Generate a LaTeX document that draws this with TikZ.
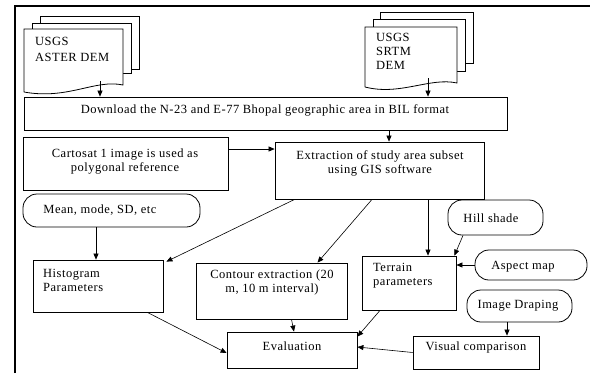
\documentclass[tikz,border=0pt]{standalone}
\usepackage{fontspec}
\setmainfont[LetterSpace=4]{Liberation Serif}
\usetikzlibrary{arrows.meta}

\begin{document}
\begin{tikzpicture}[x=1pt,y=-1pt,
  every node/.style={inner sep=0pt,font=\fontsize{12.5}{14}\selectfont},
  box/.style={draw,line width=0.8pt,rectangle},
  roundbox/.style={draw,line width=0.8pt,rectangle,rounded corners=14pt},
  page/.style={draw,line width=0.8pt,fill=white},
  link/.style={line width=0.6pt,-{Triangle[length=6pt,width=5pt]}}]
\useasboundingbox (0,0) rectangle (590,373);
% frame
\draw [line width=2.2pt] (15,373) -- (15,6) -- (590,6);
% USGS ASTER DEM pages
\draw [page] (40,23) -- (40,16) -- (139,16) -- (139,69) -- (131,69);
\draw [page] (32,29) -- (32,23) -- (131,23) -- (131,73) -- (123,73);
\draw [page] (24,92) -- (24,29) -- (123,29) -- (123,85)
  .. controls (95,79) and (68,100) .. (24,92);
\node [align=left,anchor=north west] (aster) at (35,37) {USGS\\[2pt]ASTER DEM};
\coordinate (asterout) at (100,81);
% USGS SRTM DEM pages
\draw [page] (380,19) -- (380,12) -- (473,12) -- (473,63) -- (465,63);
\draw [page] (373,27) -- (373,19) -- (465,19) -- (465,71) -- (457,71);
\draw [page] (365,87) -- (365,27) -- (457,27) -- (457,83)
  .. controls (430,77) and (400,96) .. (365,87);
\node [align=left,anchor=north west] (srtm) at (376,33) {USGS\\SRTM\\DEM};
\coordinate (srtmout) at (428,78);
% boxes
\node [box,minimum width=483,minimum height=33] (dl) at (265.5,113.5) {};
\node (dltext) at (265,110) {Download the N-23 and E-77 Bhopal geographic area in BIL format};
\node [box,minimum width=205,minimum height=53] (carto) at (125.5,163.5) {};
\node [align=center] (cartotext) at (125,162) {Cartosat 1 image is used as\\polygonal reference};
\node [box,minimum width=209,minimum height=57] (extr) at (379.5,170.5) {};
\node [align=center] (extrtext) at (380,163) {Extraction of study area subset\\using GIS software};
\node [roundbox,minimum width=177,minimum height=33] (mean) at (111.5,210.5) {};
\node (meantext) at (100,210) {Mean, mode, SD, etc};
\node [box,minimum width=130,minimum height=52] (hist) at (98,286) {};
\node [align=left,anchor=west] (histtext) at (43,280) {Histogram\\Parameters};
\node [box,minimum width=151,minimum height=56] (contour) at (271.5,291) {};
\node [align=center] (contourtext) at (272,282) {Contour extraction (20\\m, 10 m interval)};
\node [box,minimum width=94,minimum height=54] (terrain) at (409,283) {};
\node [align=left,anchor=west] (terraintext) at (373,276) {Terrain\\parameters};
\node [roundbox,minimum width=95,minimum height=35] (hill) at (495.5,217.5) {};
\node (hilltext) at (491,218) {Hill shade};
\node [roundbox,minimum width=112,minimum height=30] (aspect) at (531,265) {};
\node (aspecttext) at (523,267) {Aspect map};
\node [roundbox,minimum width=105,minimum height=32] (drap) at (519.5,306) {};
\node (draptext) at (518,306) {Image Draping};
\node [box,minimum width=126,minimum height=33] (visual) at (476,352.5) {};
\node (visualtext) at (476,347) {Visual comparison};
\node [box,minimum width=130,minimum height=36] (eval) at (292,350) {};
\node (evaltext) at (292,346) {Evaluation};
% connectors
\coordinate (cartoout) at ([yshift=14.5pt]carto.east);
\coordinate (extrin) at ([xshift=9.5pt]extr.north);
\coordinate (extrout) at ([xshift=48.5pt]extr.south);
\coordinate (meanout) at ([xshift=-15.5pt]mean.south);
\coordinate (drapout) at ([xshift=-12.5pt]drap.south);
\draw [link] (asterout) -- (asterout |- dl.north);
\draw [link] (srtmout) -- (srtmout |- dl.north);
\draw [link] (extrin |- dl.south) -- (extrin);
\draw [link] (cartoout) -- (cartoout -| extr.west);
\draw [link] ([xshift=20pt]extr.south west) -- ([xshift=3pt,yshift=-2pt]hist.north east);
\draw [link] ([xshift=-7.5pt]extr.south) -- ([xshift=46pt]contour.north);
\draw [link] (extrout) -- (extrout |- terrain.north);
\draw [link] ([xshift=-32.5pt]hill.south) -- ([xshift=-2pt]terrain.north east);
\draw [link] (aspect.west) -- (aspect.west -| terrain.east);
\draw [link] (meanout) -- (meanout |- hist.north);
\draw [link] (drapout) -- (drapout |- visual.north);
\draw [link] ([xshift=-16pt]hist.south east) -- ([yshift=-3pt]eval.west);
\draw [link] ([xshift=20pt]contour.south) -- ([xshift=2pt]eval.north);
\draw [link] ([xshift=-29pt]terrain.south) -- ([yshift=-5pt]eval.north east);
\draw [link] (visual.west) -- ([yshift=3pt]eval.east);
\end{tikzpicture}
\end{document}
